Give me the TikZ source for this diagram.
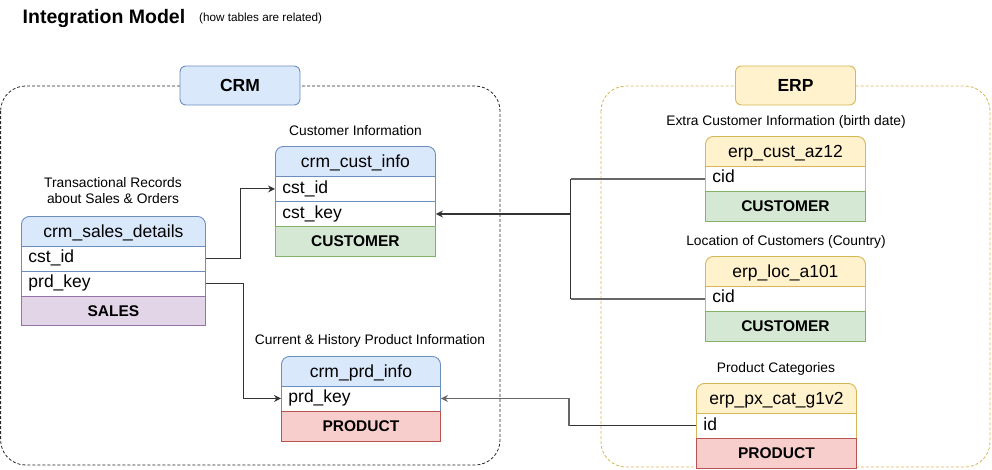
\documentclass[tikz,border=0pt]{standalone}
\usepackage{fontspec}
\setmainfont{Liberation Sans}
\usetikzlibrary{arrows.meta,calc}
\definecolor{bluefill}{HTML}{DAE8FC}
\definecolor{blueline}{HTML}{6C8EBF}
\definecolor{yelfill}{HTML}{FFF2CC}
\definecolor{yelline}{HTML}{D6B656}
\definecolor{grnfill}{HTML}{D5E8D4}
\definecolor{grnline}{HTML}{82B366}
\definecolor{redfill}{HTML}{F8CECC}
\definecolor{redline}{HTML}{B85450}
\definecolor{purfill}{HTML}{E1D5E7}
\definecolor{purline}{HTML}{9673A6}
\definecolor{connA}{HTML}{333333}
\definecolor{connB}{HTML}{666666}
\tikzset{
  tabfont/.style={font=\fontsize{17.5}{20}\selectfont},
  hdr/.style 2 args={draw=#1, fill=#2, rounded corners=8pt, line width=0.9pt, anchor=north west,
    inner ysep=0pt, text height=21pt, text depth=17pt, tabfont},
  rowc/.style={draw=#1, fill=white, line width=0.9pt, anchor=north west, minimum height=25pt,
    inner xsep=7pt, inner ysep=0pt, align=left, text height=12pt, text depth=3.5pt, tabfont},
  foot/.style 2 args={draw=#1, fill=#2, line width=0.9pt, anchor=north west, minimum height=30pt,
    inner ysep=0pt, text height=11pt, text depth=0pt, font=\bfseries\fontsize{15.5}{18}\selectfont},
  lbl/.style={font=\fontsize{13.8}{16}\selectfont, inner sep=0pt, align=center},
  grp/.style 2 args={draw=#1, fill=#2, rounded corners=6pt, line width=0.9pt, minimum width=120pt,
    minimum height=39pt, font=\bfseries\fontsize{17.5}{20}\selectfont},
  frame/.style={draw=#1, dash pattern=on 3pt off 2pt, rounded corners=25pt, line width=0.8pt},
  conn/.style={draw=connA, line width=1pt},
  connthick/.style={draw=connA, line width=2pt},
  conngrey/.style={draw=connB, line width=1.8pt},
  arr/.style={-{Stealth[length=7pt,width=7pt]}}
}
\begin{document}
\begin{tikzpicture}[x=1pt, y=-1pt]
\useasboundingbox (0,0) rectangle (992,469);

% title
\node[anchor=base west, inner sep=0pt, font=\bfseries\fontsize{19.5}{23}\selectfont] (title) at (22.5,23) {Integration Model};
\node[anchor=base west, inner sep=0pt, font=\fontsize{11.7}{14}\selectfont] (subtitle) at (199,21) {(how tables are related)};

% group frames
\draw[frame=black!85] (0.6,86) rectangle (500,465);
\draw[frame=yelline] (601,86) rectangle (990,467);
\node[grp={blueline}{bluefill}] (crm) at (240,85.5) {CRM};
\node[grp={yelline}{yelfill}] (erp) at (795.5,85.5) {ERP};

% labels
\node[lbl] (lci) at (355.5,131) {Customer Information};
\node[lbl] (lsd) at (113,191) {Transactional Records\\about Sales \& Orders};
\node[lbl] (lpi) at (370,341) {Current \& History Product Information};
\node[lbl] (lea) at (786,122) {Extra Customer Information (birth date)};
\node[lbl] (lel) at (786,242) {Location of Customers (Country)};
\node[lbl] (lpx) at (776,369) {Product Categories};

% crm_cust_info
\node[hdr={blueline}{bluefill}, minimum width=160pt] (ci) at (275,146) {crm\_cust\_info};
\node[rowc=blueline, text width=146pt] (ci-r1) at (275,176) {cst\_id};
\node[rowc=blueline, text width=146pt] (ci-r2) at (275,201) {cst\_key};
\node[foot={grnline}{grnfill}, minimum width=160pt, minimum height=29.5pt] (ci-f) at (275,226) {CUSTOMER};

% crm_sales_details
\node[hdr={blueline}{bluefill}, minimum width=184pt] (sd) at (21,216) {crm\_sales\_details};
\node[rowc=blueline, text width=170pt] (sd-r1) at (21,245.5) {cst\_id};
\node[rowc=blueline, text width=170pt] (sd-r2) at (21,270.5) {prd\_key};
\node[foot={purline}{purfill}, minimum width=184pt, minimum height=29.5pt] (sd-f) at (21,295.5) {SALES};

% crm_prd_info
\node[hdr={blueline}{bluefill}, minimum width=159pt] (pi) at (281,356) {crm\_prd\_info};
\node[rowc=blueline, text width=145pt] (pi-r1) at (281,385.5) {prd\_key};
\node[foot={redline}{redfill}, minimum width=159pt] (pi-f) at (281,410.5) {PRODUCT};

% erp_cust_az12
\node[hdr={yelline}{yelfill}, minimum width=160pt] (ea) at (705,136) {erp\_cust\_az12};
\node[rowc=yelline, text width=146pt, minimum height=24.5pt] (ea-r1) at (705,166) {cid};
\node[foot={grnline}{grnfill}, minimum width=160pt] (ea-f) at (705,190.5) {CUSTOMER};

% erp_loc_a101
\node[hdr={yelline}{yelfill}, minimum width=160pt] (el) at (705,256) {erp\_loc\_a101};
\node[rowc=yelline, text width=146pt, minimum height=24.5pt] (el-r1) at (705,286) {cid};
\node[foot={grnline}{grnfill}, minimum width=160pt] (el-f) at (705,310.5) {CUSTOMER};

% erp_px_cat_g1v2
\node[hdr={yelline}{yelfill}, minimum width=160pt] (px) at (696,383) {erp\_px\_cat\_g1v2};
\node[rowc=yelline, text width=146pt, minimum height=25pt] (px-r1) at (696,413) {id};
\node[foot={redline}{redfill}, minimum width=160pt, minimum height=29.5pt] (px-f) at (696,438) {PRODUCT};

% connectors
\draw[conn, arr] (sd-r1.east) -- ++(35,0) |- (ci-r1.west);
\draw[conn, arr] (sd-r2.east) -- ++(38,0) |- (pi-r1.west);

\coordinate (jn) at ([xshift=135pt]ci-r2.east);
\draw[conngrey] (ea-r1.west) -- (ea-r1.west -| jn);
\draw[conngrey] (el-r1.west) -- (el-r1.west -| jn);
\draw[conn] (ea-r1.west -| jn) -- (el-r1.west -| jn);
\draw[connthick, arr] (jn) -- (ci-r2.east);

\draw[conn] (px-r1.west) -- ++(-127,0) coordinate (kn);
\draw[conngrey, arr] (kn) |- (pi-r1.east);
\end{tikzpicture}
\end{document}
